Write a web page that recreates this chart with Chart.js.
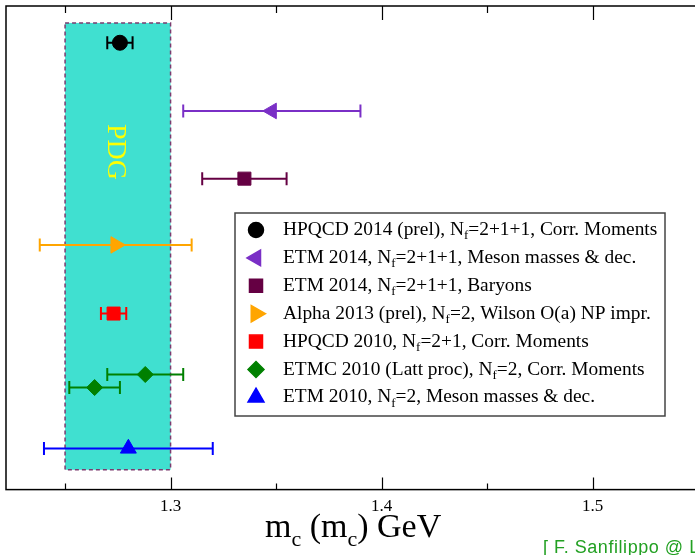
<!DOCTYPE html>
<html>
<head>
<meta charset="utf-8">
<script src="https://cdn.jsdelivr.net/npm/chart.js@4.4.1/dist/chart.umd.min.js"></script>
<style>
  html, body { margin: 0; padding: 0; background: #fff; overflow: hidden; }
  #wrap { width: 700px; height: 555px; }
</style>
</head>
<body>
<div id="wrap"><canvas id="chart" width="700" height="555"></canvas></div>
<script>
// m_c(m_c) determinations, GeV
const seriesNames = ['HPQCD 2014', 'ETM 2014 mesons', 'ETM 2014 baryons', 'Alpha 2013',
  'HPQCD 2010', 'ETMC 2010', 'ETM 2010'];
const legendPre = [
  'HPQCD 2014 (prel), N',
  'ETM 2014, N',
  'ETM 2014, N',
  'Alpha 2013 (prel), N',
  'HPQCD 2010, N',
  'ETMC 2010 (Latt proc), N',
  'ETM 2010, N'
];
const legendPost = [
  '=2+1+1, Corr. Moments',
  '=2+1+1, Meson masses & dec.',
  '=2+1+1, Baryons',
  '=2, Wilson O(a) NP impr.',
  '=2+1, Corr. Moments',
  '=2, Corr. Moments',
  '=2, Meson masses & dec.'
];
const seriesColors = ['#000000', '#7a2fc6', '#650043', '#ffa500', '#ff0000', '#008000', '#0000ff'];
const centralValues = [[1.276], [1.348], [1.335], [1.274], [1.273], [1.288, 1.264], [1.280]];
const errors = [[0.006], [0.042], [0.020], [0.036], [0.006], [0.018, 0.012], [0.040]];
// vertical slot of each point (0 = bottom of frame, 100 = top)
const rowPositions = [[92.4], [78.3], [64.3], [50.6], [36.4], [23.8, 21.1], [8.5]];

const pdgRange = [1.25, 1.30];
const pdgRows = [4.1, 96.5];

const xTickValues = [1.25, 1.3, 1.35, 1.4, 1.45, 1.5];
const xTickLabels = ['', '1.3', '', '1.4', '', '1.5'];

// marker looks
const markerStyles = ['circle', 'triangle', 'rect', 'triangle', 'rect', 'rectRot', 'triangle'];
const markerRotations = [0, -90, 0, 90, 0, 0, 0];
const markerRadius = [7.5, 9, 9.2, 9.5, 9.2, 8, 9.2];

const SERIF = '"Liberation Serif", "Times New Roman", serif';

const datasets = [];
seriesNames.forEach((name, i) => {
  // error bars: a two point line with vertical caps
  centralValues[i].forEach((v, j) => {
    datasets.push({
      label: name + ' err ' + j,
      data: [{ x: v - errors[i][j], y: rowPositions[i][j] }, { x: v + errors[i][j], y: rowPositions[i][j] }],
      showLine: true,
      borderColor: seriesColors[i],
      borderWidth: 2,
      pointStyle: 'line',
      pointRotation: 90,
      pointRadius: 6.5,
      pointBorderWidth: 2,
      pointBorderColor: seriesColors[i],
      order: 2
    });
  });
  datasets.push({
    label: name,
    data: centralValues[i].map((v, j) => ({ x: v, y: rowPositions[i][j] })),
    showLine: false,
    pointStyle: markerStyles[i],
    pointRotation: markerRotations[i],
    pointRadius: markerRadius[i],
    pointBackgroundColor: seriesColors[i],
    pointBorderColor: seriesColors[i],
    pointBorderWidth: 1,
    order: 1
  });
});

const markerDatasetIndex = [];
datasets.forEach((d, k) => { if (d.order === 1) markerDatasetIndex.push(k); });

// draws text with a subscript piece in the middle
function subText(ctx, x, y, pre, sub, post, size, subSize, drop) {
  ctx.font = size + 'px ' + SERIF;
  ctx.fillText(pre, x, y);
  x += ctx.measureText(pre).width;
  ctx.font = subSize + 'px ' + SERIF;
  ctx.fillText(sub, x, y + drop);
  x += ctx.measureText(sub).width;
  ctx.font = size + 'px ' + SERIF;
  ctx.fillText(post, x, y);
}

const decor = {
  id: 'decor',
  beforeDatasetsDraw(chart) {
    const ctx = chart.ctx;
    const xs = chart.scales.x, ys = chart.scales.y;
    const x0 = xs.getPixelForValue(pdgRange[0]), x1 = xs.getPixelForValue(pdgRange[1]);
    const y0 = ys.getPixelForValue(pdgRows[1]), y1 = ys.getPixelForValue(pdgRows[0]);
    ctx.save();
    ctx.fillStyle = '#40e0d0';
    ctx.fillRect(x0, y0, x1 - x0, y1 - y0);
    ctx.setLineDash([4, 3]);
    ctx.strokeStyle = '#7b3b6f';
    ctx.lineWidth = 1.5;
    ctx.strokeRect(x0, y0, x1 - x0, y1 - y0);
    ctx.setLineDash([]);
    ctx.translate((x0 + x1) / 2 - 2, 152);
    ctx.rotate(Math.PI / 2);
    ctx.fillStyle = '#ffff00';
    ctx.font = '28px ' + SERIF;
    ctx.textAlign = 'center';
    ctx.textBaseline = 'middle';
    ctx.fillText('PDG', 0, 0);
    ctx.restore();
  },
  afterDraw(chart) {
    const ctx = chart.ctx;
    const a = chart.chartArea;
    const xs = chart.scales.x;
    ctx.save();
    // frame
    ctx.strokeStyle = '#000';
    ctx.lineWidth = 1.5;
    ctx.strokeRect(a.left, a.top, a.right - a.left, a.bottom - a.top);
    // inward ticks top and bottom
    ctx.lineWidth = 1.2;
    xs.ticks.forEach(t => {
      const px = Math.round(xs.getPixelForValue(t.value)) + 0.5;
      const major = t.label !== '';
      ctx.beginPath();
      ctx.moveTo(px, a.bottom);
      ctx.lineTo(px, a.bottom - (major ? 12 : 6));
      ctx.moveTo(px, a.top);
      ctx.lineTo(px, a.top + (major ? 14 : 7));
      ctx.stroke();
    });

    // legend box
    const lx = 235, ly = 213, lw = 430, lh = 203;
    ctx.fillStyle = '#fff';
    ctx.fillRect(lx, ly, lw, lh);
    ctx.strokeStyle = '#444';
    ctx.lineWidth = 1.5;
    ctx.strokeRect(lx, ly, lw, lh);
    ctx.textBaseline = 'middle';
    legendPre.forEach((pre, i) => {
      const ry = 230 + i * 27.9;
      const meta = chart.getDatasetMeta(markerDatasetIndex[i]);
      const opts = meta.data[0].options;
      ctx.fillStyle = seriesColors[i];
      ctx.strokeStyle = seriesColors[i];
      Chart.helpers.drawPoint(ctx, {
        pointStyle: opts.pointStyle,
        rotation: opts.rotation,
        radius: opts.radius,
        borderWidth: 1
      }, 256, ry);
      ctx.fillStyle = '#000';
      subText(ctx, 283, ry, pre, 'f', legendPost[i], 19.4, 13, 6);
    });

    // axis title
    ctx.textBaseline = 'alphabetic';
    ctx.fillStyle = '#000';
    let x = 265;
    const parts = [['m', 'c'], [' (m', 'c'], [') GeV', '']];
    parts.forEach(p => {
      ctx.font = '34px ' + SERIF;
      ctx.fillText(p[0], x, 537);
      x += ctx.measureText(p[0]).width;
      if (p[1]) {
        ctx.font = '22px ' + SERIF;
        ctx.fillText(p[1], x, 546);
        x += ctx.measureText(p[1]).width;
      }
    });

    // attribution
    ctx.fillStyle = '#22a022';
    ctx.font = '18px "Liberation Sans", Arial, sans-serif';
    ctx.letterSpacing = '0.55px';
    ctx.fillText('[ F. Sanfilippo @ Lattice 2014 ]', 543, 553);
    ctx.restore();
  }
};

new Chart(document.getElementById('chart'), {
  type: 'scatter',
  data: { datasets: datasets },
  options: {
    responsive: false,
    animation: false,
    layout: { autoPadding: false, padding: { left: 6, top: 6, right: 2, bottom: 31 } },
    scales: {
      x: {
        type: 'linear',
        min: 1.222,
        max: 1.55,
        afterBuildTicks: scale => { scale.ticks = xTickValues.map(v => ({ value: v })); },
        ticks: {
          autoSkip: false,
          maxRotation: 0,
          padding: 7,
          color: '#000',
          font: { family: SERIF, size: 17 },
          callback: (value) => {
            const k = xTickValues.findIndex(t => Math.abs(t - value) < 1e-9);
            return k >= 0 ? xTickLabels[k] : '';
          }
        },
        grid: { display: false, drawTicks: false },
        border: { display: false }
      },
      y: {
        type: 'linear',
        min: 0,
        max: 100,
        display: false
      }
    },
    plugins: {
      legend: { display: false },
      tooltip: { enabled: false }
    }
  },
  plugins: [decor]
});
</script>
</body>
</html>
